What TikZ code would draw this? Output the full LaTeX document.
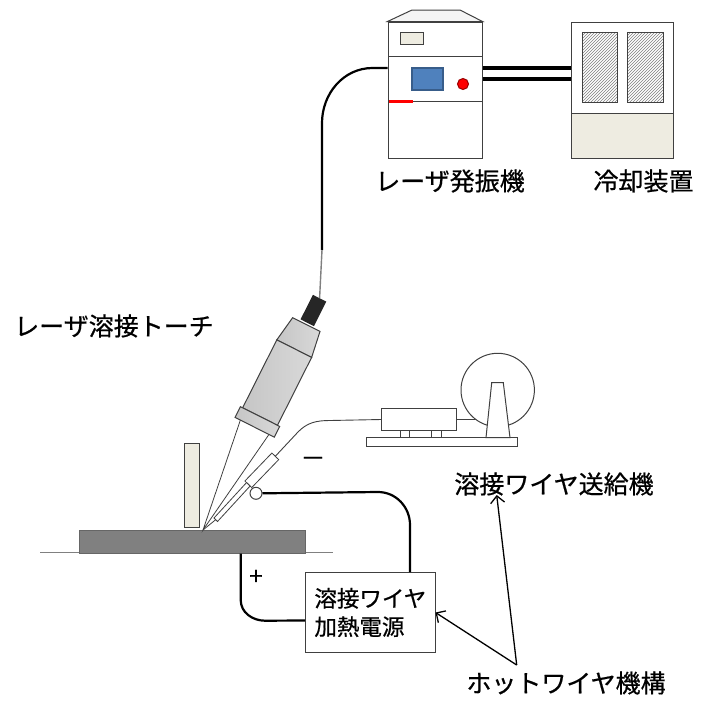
\documentclass[tikz,border=0pt]{standalone}
\usepackage{fontspec}
\newfontfamily\jpfont{Noto Sans CJK JP}[FakeBold=0.6]
\usetikzlibrary{arrows.meta,positioning,calc,patterns}
\definecolor{beige}{HTML}{EEECE1}
\definecolor{panelblue}{HTML}{4F81BD}
\definecolor{edgeblue}{HTML}{385D8A}
\definecolor{ink}{HTML}{404040}
\tikzset{every picture/.style={line width=1pt}}
\tikzset{
  lbl/.style={font=\jpfont\fontsize{25}{30}\selectfont, inner sep=1pt},
  unit/.style={draw=ink, fill=white, inner sep=0pt},
  cable/.style={line width=2.2pt, black},
  wire/.style={line width=0.9pt, ink},
  pipe/.style={line width=3.5pt, black},
  metal/.style={draw=ink, left color=gray!45, middle color=white, right color=gray!30},
  arr/.style={line width=1.3pt, -{Straight Barb[length=7pt,width=14pt]}},
}

\begin{document}
\begin{tikzpicture}[x=1pt,y=-1pt]
\useasboundingbox (0,0) rectangle (702,702);

% レーザ発振機
\node[unit, minimum width=94pt, minimum height=136pt] (osc) at (435,90) {};
\draw[ink, fill=gray!8] (osc.north west) -- (412,10) -- (460,10) -- (osc.north east) -- cycle;
\draw[ink] (388,56) -- (482,56);
\draw[ink] (388,101) -- (482,101);
\draw[ink, fill=beige] (400,32) rectangle (423,44);
\draw[edgeblue, line width=1.5pt, fill=panelblue] (412,68) rectangle (443,90);
\draw[red!60!black, fill=red] (463,84) circle (5.5);
\draw[red, line width=3pt] (389,101) -- (413,101);
\node[lbl] (osclbl) at (450,181) {レーザ発振機};

% 冷却装置
\node[unit, minimum width=102pt, minimum height=136pt] (cool) at (622,90) {};
\draw[ink, fill=beige] (571,113) rectangle (673,158);
\draw[ink, pattern=north east lines, pattern color=gray] (582,32) rectangle (617,102);
\draw[ink, pattern=north east lines, pattern color=gray] (627,32) rectangle (663,102);
\node[lbl] (coollbl) at (643.5,181) {冷却装置};

% 配管
\draw[pipe] ([yshift=22pt]osc.east) -- ([yshift=22pt]cool.west);
\draw[pipe] ([yshift=11pt]osc.east) -- ([yshift=11pt]cool.west);

% 母材
\draw[gray, line width=0.8pt] (40,552) -- (333,552);
\node[draw=black!60, fill=black!50, minimum width=226pt, minimum height=23pt, inner sep=0pt] (plate) at (192,541.5) {};
\draw[ink, fill=beige] (184,443.3) rectangle (199,527.3);

% トーチ
\begin{scope}[shift={(203,530)}, rotate=-26.7, x=1pt, y=1pt]
  \fill[black!85] (-7.5,232) rectangle (7.5,259.5);
  \coordinate (torchtop) at (0,259.5);
  \shade[metal] (-15.3,230) -- (15.3,230) -- (19.5,203) -- (-19.5,203) -- cycle;
  \shade[metal] (-19.5,203) rectangle (19.5,127);
  \shade[metal] (-22,127) rectangle (22,115);
  \draw[ink, line width=0.8pt] (-16,115) -- (0,0) -- (16,115);
  \coordinate (spot) at (0,0);
\end{scope}
\node[lbl] (torchlbl) at (114,326) {レーザ溶接トーチ};

% ファイバ
\coordinate (fibbend) at (322,250);
\draw[cable] ([yshift=22pt]osc.west) -- ++(-15,0) to[out=180,in=90] (322,123) -- (fibbend);
\draw[gray, line width=1.4pt] (fibbend) -- (torchtop);

% ワイヤノズル
\coordinate (nozzletop) at (275.3,456.3);
\draw[ink, fill=white, line width=0.8pt] (278.7,459.6) -- (271.9,453) -- (244.9,481) -- (251.7,487.6) -- cycle;
\draw[ink, fill=white, line width=0.8pt] (250.1,486) -- (246.5,482.6) -- (214,518) -- (217.5,521.5) -- cycle;
\draw[ink, line width=0.8pt] (215.7,519.7) -- (spot);
\node[circle, draw=ink, fill=white, minimum size=12pt, inner sep=0pt] (clamp) at (256,493.3) {};

% 送給機
\node[unit, minimum width=74.3pt, minimum height=22.4pt] (feedbox) at (418.85,419.5) {};
\draw[ink, fill=white] (366,437.7) rectangle (517.7,446.7);
\draw[ink, fill=white] (400,430.7) rectangle (409,437.7);
\draw[ink, fill=white] (431.7,430.7) rectangle (441.7,437.7);
\draw[ink] (feedbox.east) -- ++(25,0);
\node[circle, draw=ink, fill=white, minimum size=73.4pt, inner sep=0pt] (spool) at (497.7,390) {};
\draw[ink, fill=white] (486,437.7) -- (491.7,382.7) -- (503.3,382.7) -- (510,437.7) -- cycle;
\draw[wire] (nozzletop) -- (298,432) to[out=46,in=180] (330,420.5) -- (feedbox.west);
\node[lbl] (feedlbl) at (554,484) {溶接ワイヤ送給機};

% 加熱電源
\node[draw=ink, fill=white, minimum width=129.3pt, minimum height=79.6pt, align=left,
      font=\jpfont\fontsize{22.5}{28.3}\selectfont] (pwr) at (370.35,612.5) {溶接ワイヤ\\加熱電源};
\draw[cable] (clamp.east) -- (378,492) to[out=0,in=90] (410,525) -- ([xshift=39.7pt]pwr.north);
\draw[cable] ([xshift=48.7pt]plate.south) -- (240.7,600) to[out=-90,in=180] (265,620.7) -- ([yshift=-8pt]pwr.west);
\node[font=\jpfont\fontsize{25}{25}\selectfont, inner sep=0pt] (minus) at (313,462) {－};
\node[font=\jpfont\fontsize{24}{24}\selectfont, inner sep=0pt] (plus) at (256,577.3) {+};

% ホットワイヤ機構
\node[lbl] (hwlbl) at (566,683) {ホットワイヤ機構};
\coordinate (hwtop) at (516.7,665);
\coordinate (feedtip) at (496.7,495);
\draw[arr] (hwtop) -- (feedtip);
\draw[arr] (hwtop) -- (pwr.east);
\end{tikzpicture}
\end{document}
